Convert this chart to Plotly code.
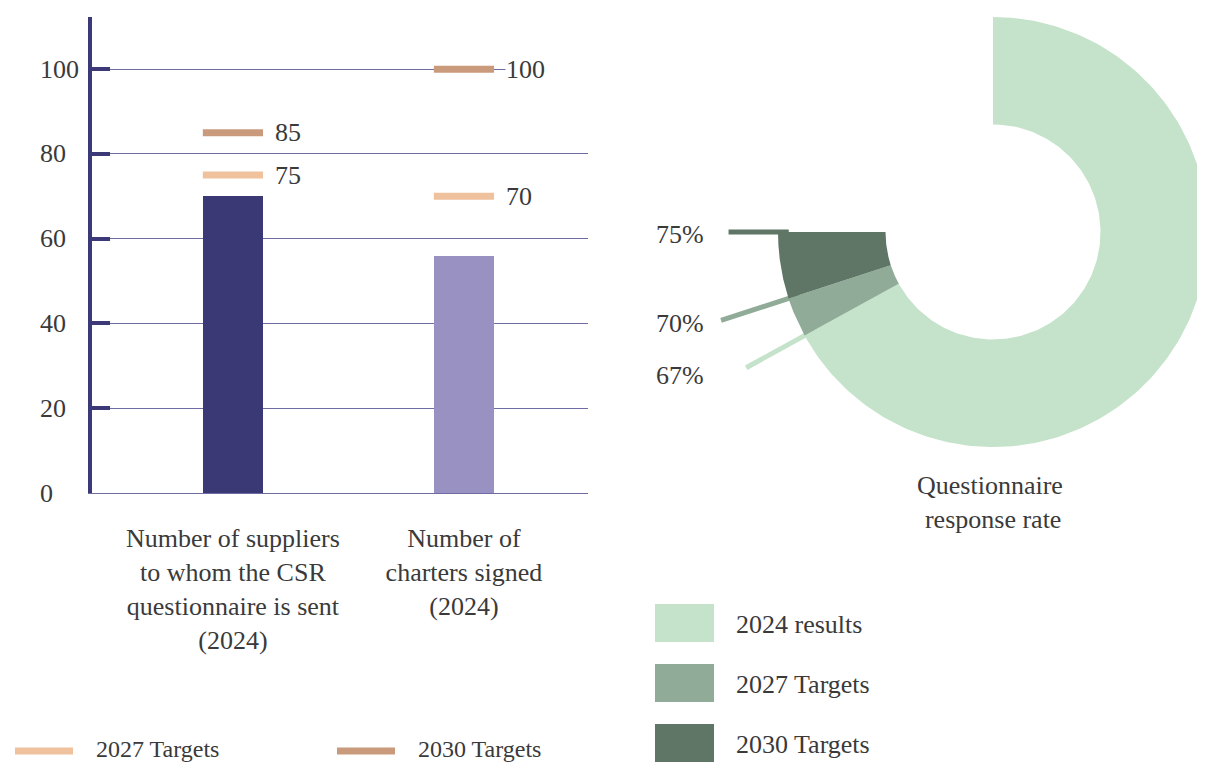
import math
import plotly.graph_objects as go

# ---------------- data ----------------
categories = ["Number of suppliers<br>to whom the CSR<br>questionnaire is sent<br>(2024)",
              "Number of<br>charters signed<br>(2024)"]
results_2024 = [70, 56]
targets_2027 = [75, 70]
targets_2030 = [85, 100]
y_ticks = [0, 20, 40, 60, 80, 100]
bar_legend = ["2027 Targets", "2030 Targets"]

donut_labels = ["2024 results", "2027 Targets", "2030 Targets"]
donut_values = [67, 70, 75]          # cumulative response-rate percentages
donut_title = "Questionnaire response rate"

# ---------------- style ----------------
PAGE_W, PAGE_H = 1205, 762
OFF = 8                                 # default body margin of the html page
W, H = PAGE_W - OFF, PAGE_H - OFF
FONT = "Liberation Serif"
TXT = "#3a3a3a"
NAVY = "#3b3977"
GRID = "#6f6ca4"
BAR_COLORS = ["#3a3875", "#9891c2"]
C2027 = "#efc19d"
C2030 = "#c99b7c"
GREENS = ["#c4e3ca", "#90ab98", "#5f7566"]

def px_x(p):
    return (p - OFF) / W

def px_y(p):
    return (H - (p - OFF)) / H

fig = go.Figure()
annotations = []

# ---------- left bar chart ----------
cat_x = list(range(len(categories)))
fig.add_trace(go.Bar(x=cat_x, y=results_2024, width=0.26,
                     marker=dict(color=BAR_COLORS, line=dict(width=0)),
                     showlegend=False, hoverinfo="y"))
for vals, col, nm in [(targets_2027, C2027, bar_legend[0]), (targets_2030, C2030, bar_legend[1])]:
    fig.add_trace(go.Scatter(
        x=cat_x, y=vals, mode="markers", name=nm,
        marker=dict(symbol="line-ew", size=43, line=dict(width=7, color=col)),
        showlegend=False, hoverinfo="name+y", cliponaxis=False))
    for xv, v in zip(cat_x, vals):
        annotations.append(dict(x=xv, y=v, xref="x", yref="y", text=str(v),
                                showarrow=False, xanchor="left", yanchor="middle",
                                xshift=41, width=84, align="left",
                                bgcolor="white", borderpad=0,
                                font=dict(family=FONT, size=26, color=TXT)))

# ---------- right donut (cartesian, unit radius) ----------
R_PX = 215.0
CX, CY = 993.0, 232.0
X2_LEFT = 640.0
HOLE = 0.5
line_len = [1.31, 1.33, 1.23]
label_dy = [-8, -3, -2]

def pol(r, frac):
    a = frac * 2 * math.pi
    return r * math.sin(a), r * math.cos(a)

# leader lines (under sectors)
for i, v in enumerate(donut_values):
    x0, y0 = pol(0.95, v / 100)
    x1, y1 = pol(line_len[i], v / 100)
    fig.add_trace(go.Scatter(x=[x0, x1], y=[y0, y1], mode="lines",
                             line=dict(color=GREENS[i], width=5),
                             xaxis="x2", yaxis="y2", showlegend=False,
                             hoverinfo="skip", cliponaxis=False))

starts = [0] + donut_values[:-1]
for i, (s, e) in enumerate(zip(starts, donut_values)):
    n = 200
    fr = [s / 100 + (e - s) / 100 * k / n for k in range(n + 1)]
    outer = [pol(1.0, f) for f in fr]
    inner = [pol(HOLE, f) for f in reversed(fr)]
    pts = outer + inner + [outer[0]]
    fig.add_trace(go.Scatter(x=[p[0] for p in pts], y=[p[1] for p in pts],
                             mode="lines", fill="toself", fillcolor=GREENS[i],
                             line=dict(width=0, color=GREENS[i]),
                             xaxis="x2", yaxis="y2", showlegend=False,
                             name=donut_labels[i], hoverinfo="name"))

# y tick labels, left aligned
for v in y_ticks:
    annotations.append(dict(x=px_x(38), xref="paper", y=v, yref="y",
                            text=str(v), showarrow=False, xanchor="left",
                            yanchor="middle",
                            font=dict(family=FONT, size=26, color=TXT)))
# donut value labels
for i, v in enumerate(donut_values):
    _, ye = pol(line_len[i], v / 100)
    annotations.append(dict(x=px_x(654), xref="paper", y=ye, yref="y2",
                            text=f"{v}%", showarrow=False, xanchor="left",
                            yanchor="middle", yshift=label_dy[i],
                            font=dict(family=FONT, size=26, color=TXT)))
annotations.append(dict(x=0, xref="x2", y=px_y(502), yref="paper",
                        text=donut_title.replace("response", "<br>response"),
                        showarrow=False, xanchor="center", yanchor="middle",
                        font=dict(family=FONT, size=26, color=TXT)))

shapes = []
# right legend (squares)
for i, lab in enumerate(donut_labels):
    yc = 623 + 60 * i
    shapes.append(dict(type="rect", xref="paper", yref="paper",
                       x0=px_x(655), x1=px_x(714), y0=px_y(yc - 19), y1=px_y(yc + 19),
                       fillcolor=GREENS[i], line=dict(width=0)))
    annotations.append(dict(x=px_x(734), xref="paper", y=px_y(yc + 1), yref="paper",
                            text=lab, showarrow=False, xanchor="left", yanchor="middle",
                            font=dict(family=FONT, size=26, color=TXT)))
# left legend (lines)
for i, (lab, col) in enumerate(zip(bar_legend, [C2027, C2030])):
    x0 = 15 + 322 * i
    shapes.append(dict(type="line", xref="paper", yref="paper",
                       x0=px_x(x0), x1=px_x(x0 + 58), y0=px_y(751), y1=px_y(751),
                       line=dict(color=col, width=7)))
    annotations.append(dict(x=px_x(x0 + 79), xref="paper", y=px_y(749), yref="paper",
                            text=lab, showarrow=False, xanchor="left", yanchor="middle",
                            font=dict(family=FONT, size=24, color=TXT)))

fig.update_layout(
    width=W, height=H, margin=dict(l=0, r=0, t=0, b=0),
    paper_bgcolor="white", plot_bgcolor="rgba(0,0,0,0)",
    bargap=0, showlegend=False,
    xaxis=dict(domain=[px_x(92), px_x(588)], range=[-0.61, 1.537],
               tickvals=cat_x, ticktext=categories, ticks="",
               tickfont=dict(family=FONT, size=26, color=TXT),
               ticklabelstandoff=22,
               showgrid=False, zeroline=False, showline=True,
               linecolor=GRID, linewidth=1, fixedrange=True),
    yaxis=dict(domain=[px_y(493), px_y(17)], range=[0, 112.3],
               tickvals=y_ticks, showticklabels=False,
               ticks="inside", ticklen=18, tickwidth=4, tickcolor=NAVY,
               showgrid=True, gridcolor=GRID, gridwidth=1,
               zeroline=False, showline=True, linecolor=NAVY, linewidth=4,
               fixedrange=True),
    xaxis2=dict(domain=[px_x(X2_LEFT), 1.0],
                range=[(X2_LEFT - CX) / R_PX, (PAGE_W - CX) / R_PX],
                visible=False, anchor="y2", fixedrange=True),
    yaxis2=dict(domain=[0, 1], range=[-(PAGE_H - CY) / R_PX, (CY - OFF) / R_PX],
                visible=False, anchor="x2", fixedrange=True),
    annotations=annotations, shapes=shapes,
)

fig.write_html("out.html")
